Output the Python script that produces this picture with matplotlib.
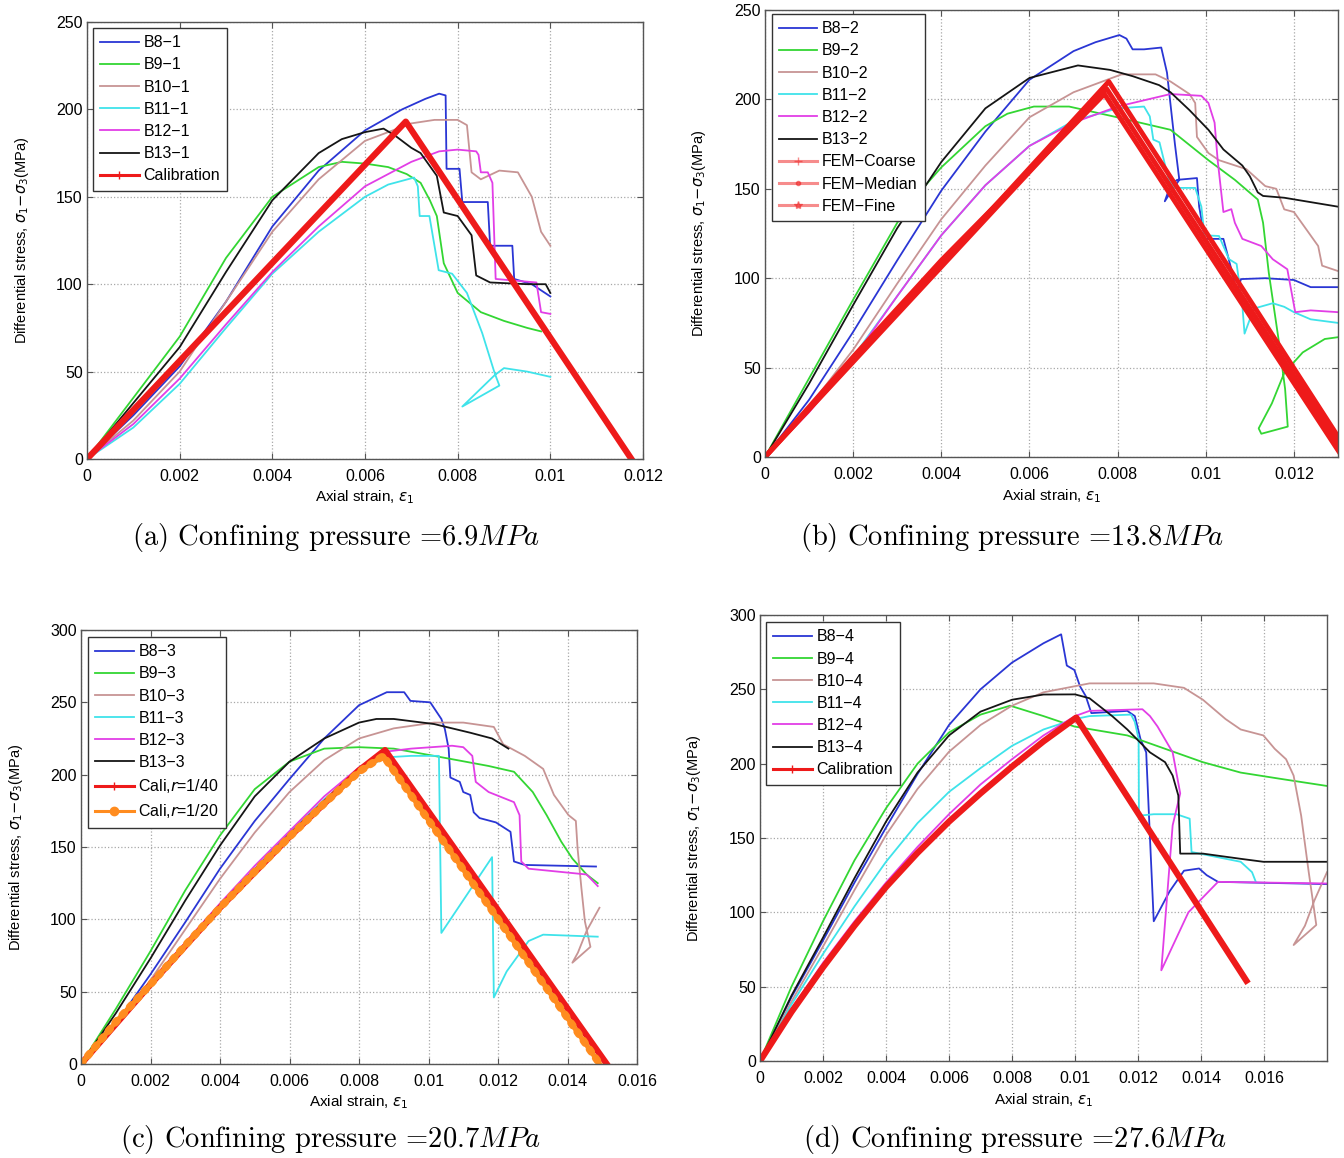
import numpy as np
import matplotlib
matplotlib.use("Agg")
import matplotlib.pyplot as plt
from matplotlib.ticker import FormatStrFormatter

plt.rcParams['font.family'] = ['Liberation Sans', 'DejaVu Sans']

# strain values are given in units of 1e-3, stress in MPa

# ---- (a) confining pressure 6.9 MPa
a_b8_x = [0, 1, 2, 3, 4, 5, 6, 6.8, 7.3, 7.6, 7.74, 7.76, 8.04, 8.1, 8.65, 8.7, 9.18, 9.22, 9.6, 10]
a_b8_y = [0, 25, 53, 90, 133, 165, 188, 200, 206, 209, 208, 166, 166, 147, 147, 122, 122, 103, 100, 93]
a_b9_x = [0, 1, 2, 3, 4, 5, 5.5, 6, 6.5, 6.9, 7.2, 7.4, 7.55, 7.7, 8.0, 8.5, 9.0, 9.5, 9.8]
a_b9_y = [0, 35, 70, 115, 150, 167, 170, 169, 167, 163, 158, 148, 139, 112, 95, 84, 79, 75, 73]
a_b10_x = [0, 1, 2, 3, 4, 5, 6, 7, 7.5, 8.0, 8.2, 8.3, 8.5, 8.9, 9.3, 9.6, 9.8, 10]
a_b10_y = [0, 22, 50, 90, 130, 160, 182, 192, 194, 194, 191, 164, 160, 165, 164, 150, 130, 122]
a_b11_x = [0, 1, 2, 3, 4, 5, 6, 6.5, 7.06, 7.14, 7.18, 7.39, 7.59, 7.88, 8.2, 8.53, 8.8, 8.9, 8.1, 8.8, 9.0, 9.5, 10]
a_b11_y = [0, 18, 43, 75, 106, 130, 150, 157, 161, 156, 139, 139, 108, 106, 95, 72, 49, 42, 30, 48, 52, 50, 47]
a_b12_x = [0, 1, 2, 3, 4, 5, 6, 7, 7.6, 8.0, 8.4, 8.45, 8.5, 8.65, 8.75, 8.82, 9.7, 9.8, 10]
a_b12_y = [0, 20, 46, 77, 107, 133, 156, 170, 176, 177, 176, 174, 164, 164, 158, 103, 101, 84, 83]
a_b13_x = [0, 1, 2, 3, 4, 5, 5.5, 6, 6.4, 6.65, 7.0, 7.2, 7.55, 7.7, 8.0, 8.3, 8.4, 8.7, 9.5, 9.9, 10]
a_b13_y = [0, 32, 64, 107, 148, 175, 183, 187, 189, 185, 178, 175, 162, 141, 139, 128, 105, 101, 100, 100, 95]
a_cal_x = [0, 6.88, 11.75]
a_cal_y = [0, 193, 0]

# ---- (b) confining pressure 13.8 MPa
b_b8_x = [0, 1, 2, 3, 4, 5, 6, 7, 7.5, 8.04, 8.2, 8.34, 8.6, 8.99, 9.12, 9.3, 9.4, 9.2, 9.07, 9.2, 9.35, 9.8, 9.85, 9.98, 10.4, 10.58, 10.7, 10.8, 11.35, 12.0, 12.38, 13]
b_b8_y = [0, 32, 70, 110, 149, 182, 211, 227, 232, 236, 234, 228, 228, 229, 215, 175, 155, 148, 143, 152, 155, 156, 140, 122, 122, 105, 92, 99.5, 100, 99, 95, 95]
b_b9_x = [0, 1, 2, 3, 3.5, 4, 5, 5.5, 6.1, 6.9, 7.9, 9.2, 10.06, 10.66, 11.18, 11.3, 11.43, 11.65, 11.8, 11.86, 11.26, 11.2, 11.5, 11.78, 12.2, 12.7, 13]
b_b9_y = [0, 44, 88, 131, 148, 162, 185, 192, 196, 196, 190.5, 183, 166, 155, 144, 131, 103, 66, 38, 17, 13, 16, 30, 47, 58.5, 66, 67]
b_b10_x = [0, 1, 2, 3, 4, 5, 6, 7, 8.09, 8.86, 9.2, 9.63, 9.76, 9.8, 10.06, 10.3, 10.92, 11.35, 11.6, 11.78, 12.0, 12.29, 12.55, 12.64, 13]
b_b10_y = [0, 28, 60, 97, 133, 163, 190, 204, 214, 214, 210, 203, 198, 179, 170, 166, 161, 151.5, 150, 138.5, 137, 127, 118, 107, 104]
b_b11_x = [0, 1, 2, 3, 4, 5, 6, 7, 8, 8.6, 8.73, 8.81, 8.95, 9.16, 9.29, 9.76, 9.9, 9.97, 10.3, 10.53, 10.7, 10.83, 10.88, 11.09, 11.52, 11.78, 12.0, 12.38, 13]
b_b11_y = [0, 26, 56, 90, 124, 152, 174, 188, 195, 196, 190.5, 177.5, 176, 155, 150.5, 150.5, 140, 124, 123.6, 110.6, 108, 84.6, 69, 83, 86, 84, 81, 77, 75]
b_b12_x = [0, 1, 2, 3, 4, 5, 6, 7, 8, 9.2, 9.9, 10.06, 10.2, 10.27, 10.4, 10.58, 10.66, 10.83, 11.26, 11.52, 11.85, 12.03, 12.38, 13]
b_b12_y = [0, 25, 55, 90, 124, 152, 174, 187, 196, 203, 202, 198, 187, 166, 137, 138.6, 131, 122, 118, 110.6, 105, 81, 82, 81]
b_b13_x = [0, 1, 2, 3, 4, 5, 6, 7.1, 7.83, 8.34, 8.94, 9.2, 9.63, 10.06, 10.4, 10.83, 11.0, 11.18, 11.3, 11.78, 13]
b_b13_y = [0, 41, 85, 128, 165, 195, 212, 219, 216.5, 213, 208, 204, 194, 183, 172, 163, 157, 148, 146, 145, 140]
b_coarse_x = [0, 7.8, 13.3]
b_coarse_y = [0, 210, 0]
b_median_x = [0, 2, 4, 6, 7.7, 13.1]
b_median_y = [0, 56, 110, 160, 203, 0]
b_fine_x = [0, 7.75, 13.2]
b_fine_y = [0, 206, 0]

# ---- (c) confining pressure 20.7 MPa
c_b8_x = [0, 1, 2, 3, 4, 5, 6, 7, 8, 8.8, 9.3, 9.48, 10.05, 10.37, 10.47, 10.58, 10.63, 10.9, 11.0, 11.2, 11.3, 11.47, 11.94, 12.36, 12.46, 12.77, 14.82]
c_b8_y = [0, 28, 62, 98, 135, 168, 197, 225, 248, 257, 257, 251, 250, 238.5, 231.6, 218, 198, 195, 188, 186, 174, 170, 167, 160.5, 140, 137.6, 136.5]
c_b9_x = [0, 1, 2, 3, 4, 5, 6, 7, 8, 9, 10.16, 11.73, 12.46, 13.0, 13.4, 13.82, 14.14, 14.55, 14.87]
c_b9_y = [0, 38, 78, 120, 158, 190, 209, 218, 219, 218, 213, 206, 202, 188, 172, 153.7, 142, 131, 125]
c_b10_x = [0, 1, 2, 3, 4, 5, 6, 7, 8, 9, 10.16, 11.0, 11.88, 12.15, 12.77, 13.3, 13.61, 14.03, 14.24, 14.29, 14.4, 14.5, 14.66, 14.14, 14.3, 14.55, 14.92]
c_b10_y = [0, 26, 58, 93, 128, 160, 188, 210, 225, 232, 236, 236, 233, 221, 213, 204, 186, 172, 168, 149, 121.6, 98.6, 81, 70, 77, 92, 108]
c_b11_x = [0, 1, 2, 3, 4, 5, 6, 7, 8, 8.8, 9.5, 10.3, 10.37, 11.83, 11.88, 12.25, 12.88, 13.3, 14.87]
c_b11_y = [0, 29, 56, 83, 110, 135, 160, 183, 203, 212, 213, 213, 90.6, 143, 46, 64, 85, 89.4, 88]
c_b12_x = [0, 1, 2, 3, 4, 5, 6, 7, 8, 8.8, 9.5, 10.68, 11.0, 11.26, 11.36, 11.73, 12.46, 12.62, 12.67, 12.88, 14.55, 14.87]
c_b12_y = [0, 29, 57, 84, 111, 137, 161, 185, 205, 216, 218, 220, 219, 213, 195, 188, 181, 172, 140, 135, 131, 123]
c_b13_x = [0, 1, 2, 3, 4, 5, 6, 7, 8, 8.5, 9, 10.16, 11.2, 11.83, 12.3]
c_b13_y = [0, 35, 73, 113, 151, 185, 209, 225, 236, 238.5, 238.5, 235, 229, 225, 218]
c_cal40_x = [0, 2, 4, 6, 8, 8.75, 15.13]
c_cal40_y = [0, 55, 108, 157, 203, 217, 0]
c_cal20_x = [0, 1, 2, 3, 4, 5, 6, 7, 8, 8.7, 14.93]
c_cal20_y = [0, 29, 55, 82, 108, 133, 157, 180, 202, 213, 0]

# ---- (d) confining pressure 27.6 MPa
d_b8_x = [0, 1, 2, 3, 4, 5, 6, 7, 8, 9, 9.56, 9.74, 9.98, 10.16, 10.34, 10.52, 11.66, 11.9, 12.08, 12.26, 12.38, 12.5, 13.0, 13.46, 13.94, 14.18, 14.54, 18]
d_b8_y = [0, 43, 81, 120, 157, 193, 226, 250, 268, 281, 287, 266, 263, 252, 245.5, 234, 235.5, 232, 216.5, 207.6, 150, 94, 114, 128, 129.5, 125, 120.5, 119]
d_b9_x = [0, 1, 2, 3, 4, 5, 6, 7, 7.94, 9, 9.98, 11.66, 12.86, 14.06, 15.26, 16.46, 18]
d_b9_y = [0, 50, 94, 135, 170, 200, 221, 233, 239, 232, 225, 219, 210, 201, 194, 190, 185]
d_b10_x = [0, 1, 2, 3, 4, 5, 6, 7, 8, 9, 10.46, 12.5, 13.46, 14.06, 14.78, 15.26, 15.98, 16.34, 16.7, 16.94, 17.18, 17.42, 17.66, 16.94, 17.3, 17.6, 18]
d_b10_y = [0, 40, 77, 115, 152, 183, 208, 226, 239, 248, 254, 254, 251, 243, 230, 223, 219, 210, 203, 192, 165, 127, 91.5, 78, 91, 108, 127]
d_b11_x = [0, 1, 2, 3, 4, 5, 6, 7, 8, 9, 10, 10.46, 11.78, 11.9, 12.02, 12.03, 12.5, 13.22, 13.64, 13.7, 15.26, 15.62, 15.74]
d_b11_y = [0, 38, 72, 104, 134, 160, 181, 197, 212, 223, 230, 232, 233, 228, 216.5, 165, 166, 166, 163, 140.6, 134, 127, 120.5]
d_b12_x = [0, 1, 2, 3, 4, 5, 6, 7, 8, 9, 10, 10.46, 12.14, 12.38, 12.62, 13.1, 13.34, 13.1, 12.74, 13.6, 14.54, 18]
d_b12_y = [0, 35, 66, 94, 120, 144, 166, 186, 203, 219, 232, 235.5, 236.6, 232, 225, 207.6, 180, 158.5, 61, 100, 120.5, 119.4]
d_b13_x = [0, 1, 2, 3, 4, 5, 6, 7, 8, 9, 10, 10.46, 11.18, 11.66, 12.38, 12.86, 13.1, 13.28, 13.34, 14.06, 15.26, 15.98, 18]
d_b13_y = [0, 44, 83, 123, 161, 194, 219, 235, 243, 246.5, 246.6, 244, 232, 223, 207.6, 201, 192, 178.6, 139.5, 139.5, 136, 134, 134]
d_cal_x = [0, 1, 2, 3, 4, 5, 6, 7, 8, 9, 10.04, 15.44]
d_cal_y = [0, 33, 63, 91, 117, 140, 161, 180, 198, 215, 231, 54]

BLUE = '#2a36d4'
GREEN = '#33d633'
BROWN = '#c79494'
CYAN = '#3fe3ea'
MAGENTA = '#e23ee6'
BLACK = '#151515'
RED = '#ee1a1a'
ORANGE = '#ff8c1f'

W, H = 1344, 1158
fig = plt.figure(figsize=(W / 100, H / 100), dpi=100)


def make_axes(left, right, top, bottom):
    return fig.add_axes([left / W, 1 - bottom / H, (right - left) / W, (bottom - top) / H])


def style(ax, xmax, ymax, xticks, yticks):
    ax.set_xlim(0, xmax)
    ax.set_ylim(0, ymax)
    ax.set_xticks(xticks)
    ax.set_yticks(yticks)
    ax.xaxis.set_major_formatter(FormatStrFormatter('%g'))
    ax.grid(True, ls=':', color='#a8a8a8', lw=0.9)
    ax.tick_params(direction='in', length=4, top=True, right=True, labelsize=11.5,
                   color='#555555')
    ax.tick_params(axis='x', pad=7)
    ax.tick_params(axis='y', pad=3)
    for s in ax.spines.values():
        s.set_color('#555555')
        s.set_linewidth(1.0)
    ax.set_xlabel(r'Axial strain, $\epsilon_1$', fontsize=11)
    ax.set_ylabel(r'Differential stress, $\sigma_1\!-\!\sigma_3$(MPa)', fontsize=10.5)
    ax.xaxis.set_label_coords(0.5, -0.068)
    ax.yaxis.set_label_coords(-0.1, 0.5)


def tests(ax, xs, ys, names):
    cols = [BLUE, GREEN, BROWN, CYAN, MAGENTA, BLACK]
    for x, y, n, c in zip(xs, ys, names, cols):
        ax.plot(np.array(x) * 1e-3, y, color=c, lw=1.3, label=n)


def legend(ax, x0, y0, markers, pale=False):
    leg = ax.legend(loc='upper left', bbox_to_anchor=(x0, y0), borderaxespad=0,
                    fontsize=11.5, handlelength=2.4, handletextpad=0.3,
                    labelspacing=0.45, borderpad=0.45, fancybox=False, framealpha=1)
    leg.get_frame().set_edgecolor('#333333')
    leg.get_frame().set_linewidth(1.0)
    lines = leg.get_lines()
    for ln, m in zip(lines[-len(markers):], markers):
        ln.set_linewidth(2.2)
        ln.set_marker(m)
        ln.set_markersize(6)
        if pale:
            ln.set_alpha(0.5)
    return leg


def caption(x, y, s):
    fig.text(x / W, 1 - y / H, s, ha='center', va='center', fontsize=20.5,
             family='cmr10', math_fontfamily='cm')


# (a)
ax = make_axes(87, 643, 22, 459)
tests(ax, [a_b8_x, a_b9_x, a_b10_x, a_b11_x, a_b12_x, a_b13_x],
      [a_b8_y, a_b9_y, a_b10_y, a_b11_y, a_b12_y, a_b13_y],
      ['B8\u22121', 'B9\u22121', 'B10\u22121', 'B11\u22121', 'B12\u22121', 'B13\u22121'])
ax.plot(np.array(a_cal_x) * 1e-3, a_cal_y, color=RED, lw=4.5, label='Calibration')
style(ax, 0.012, 250, np.arange(0, 0.0121, 0.002), np.arange(0, 251, 50))
legend(ax, 0.011, 0.986, ['+'])
caption(336, 537, r'(a) Confining pressure =6.9$MPa$')

# (b)
ax = make_axes(765, 1338, 10, 457)
tests(ax, [b_b8_x, b_b9_x, b_b10_x, b_b11_x, b_b12_x, b_b13_x],
      [b_b8_y, b_b9_y, b_b10_y, b_b11_y, b_b12_y, b_b13_y],
      ['B8\u22122', 'B9\u22122', 'B10\u22122', 'B11\u22122', 'B12\u22122', 'B13\u22122'])
ax.plot(np.array(b_coarse_x) * 1e-3, b_coarse_y, color=RED, lw=3.5, label='FEM\u2212Coarse')
ax.plot(np.array(b_median_x) * 1e-3, b_median_y, color=RED, lw=3.5, label='FEM\u2212Median')
ax.plot(np.array(b_fine_x) * 1e-3, b_fine_y, color=RED, lw=3.5, label='FEM\u2212Fine')
style(ax, 0.013, 250, np.arange(0, 0.0121, 0.002), np.arange(0, 251, 50))
legend(ax, 0.012, 0.991, ['+', '.', '*'], pale=True)
caption(1012, 537, r'(b) Confining pressure =13.8$MPa$')

# (c)
ax = make_axes(81, 637, 630, 1064)
tests(ax, [c_b8_x, c_b9_x, c_b10_x, c_b11_x, c_b12_x, c_b13_x],
      [c_b8_y, c_b9_y, c_b10_y, c_b11_y, c_b12_y, c_b13_y],
      ['B8\u22123', 'B9\u22123', 'B10\u22123', 'B11\u22123', 'B12\u22123', 'B13\u22123'])
ax.plot(np.array(c_cal40_x) * 1e-3, c_cal40_y, color=RED, lw=4.5, label=r'Cali,$r$=1/40')
ax.plot(np.array(c_cal20_x) * 1e-3, c_cal20_y, color=ORANGE, lw=3.5, label=r'Cali,$r$=1/20')
ax.plot(np.array(c_cal20_x) * 1e-3, c_cal20_y, color=ORANGE, lw=5.5, ls=(0, (0.4, 1.0)),
        dash_capstyle='round')
style(ax, 0.016, 300, np.arange(0, 0.0161, 0.002), np.arange(0, 301, 50))
legend(ax, 0.0126, 0.984, ['+', 'o'])
caption(330, 1140, r'(c) Confining pressure =20.7$MPa$')

# (d)
ax = make_axes(760, 1327, 615, 1061)
tests(ax, [d_b8_x, d_b9_x, d_b10_x, d_b11_x, d_b12_x, d_b13_x],
      [d_b8_y, d_b9_y, d_b10_y, d_b11_y, d_b12_y, d_b13_y],
      ['B8\u22124', 'B9\u22124', 'B10\u22124', 'B11\u22124', 'B12\u22124', 'B13\u22124'])
ax.plot(np.array(d_cal_x) * 1e-3, d_cal_y, color=RED, lw=4.5, label='Calibration')
style(ax, 0.018, 300, np.arange(0, 0.0161, 0.002), np.arange(0, 301, 50))
legend(ax, 0.0106, 0.984, ['+'])
caption(1015, 1140, r'(d) Confining pressure =27.6$MPa$')

fig.savefig('out.png', dpi=100)
